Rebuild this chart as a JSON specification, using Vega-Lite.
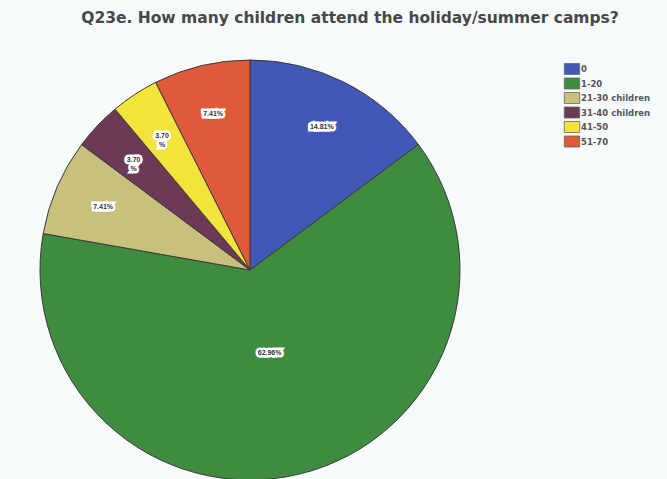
{
  "$schema": "https://vega.github.io/schema/vega-lite/v6.json",
  "autosize": "none",
  "padding": {"top": 40, "left": 0, "right": 167, "bottom": 0},
  "width": 500,
  "height": 460,
  "background": "#f6fafa",
  "title": {
    "text": "Q23e. How many children attend the holiday/summer camps?",
    "font": "DejaVu Sans",
    "fontSize": 15.5,
    "fontWeight": "bold",
    "color": "#484848",
    "anchor": "middle",
    "dx": 100,
    "offset": 14
  },
  "data": {
    "values": [
      {"idx": 1, "category": "0", "percent": 14.81, "label": "14.81%"},
      {"idx": 2, "category": "1-20", "percent": 62.96, "label": "62.96%"},
      {"idx": 3, "category": "21-30 children", "percent": 7.41, "label": "7.41%"},
      {"idx": 4, "category": "31-40 children", "percent": 3.70, "label": "3.70\n%"},
      {"idx": 5, "category": "41-50", "percent": 3.70, "label": "3.70\n%"},
      {"idx": 6, "category": "51-70", "percent": 7.41, "label": "7.41%"}
    ]
  },
  "encoding": {
    "theta": {"field": "percent", "type": "quantitative", "stack": true},
    "order": {"field": "idx", "type": "quantitative"}
  },
  "layer": [
    {
      "mark": {"type": "arc", "outerRadius": 210, "stroke": "#3a3a3a", "strokeWidth": 1},
      "encoding": {
        "color": {
          "field": "category",
          "type": "nominal",
          "sort": null,
          "scale": {
            "domain": ["0", "1-20", "21-30 children", "31-40 children", "41-50", "51-70"],
            "range": ["#4358b6", "#3f8b40", "#c8c17e", "#6d3a55", "#f3e43c", "#df5a3a"]
          },
          "legend": {
            "title": null,
            "orient": "none",
            "legendX": 566,
            "legendY": 23,
            "symbolType": "M-1.4,-1H1.4V1H-1.4Z",
            "symbolSize": 121,
            "symbolStrokeColor": "#666",
            "symbolStrokeWidth": 0.8,
            "labelFont": "DejaVu Sans",
            "labelFontSize": 8.5,
            "labelFontWeight": "bold",
            "labelColor": "#555",
            "rowPadding": -1.5,
            "labelOffset": 3
          }
        }
      }
    },
    {
      "mark": {"type": "text", "radius": 160, "font": "Liberation Sans", "fontSize": 7, "fontWeight": "bold", "fill": "#333", "stroke": "white", "strokeWidth": 5, "lineBreak": "\n", "strokeJoin": "miter"},
      "encoding": {"text": {"field": "label"}, "opacity": {"condition": {"test": "datum.category == '1-20'", "value": 0}, "value": 1}}
    },
    {
      "mark": {"type": "text", "radius": 160, "font": "Liberation Sans", "fontSize": 7, "fontWeight": "bold", "fill": "#333", "lineBreak": "\n"},
      "encoding": {"text": {"field": "label"}, "opacity": {"condition": {"test": "datum.category == '1-20'", "value": 0}, "value": 1}}
    },
    {
      "mark": {"type": "text", "radius": 85, "font": "Liberation Sans", "fontSize": 7, "fontWeight": "bold", "fill": "#333", "stroke": "white", "strokeWidth": 5, "strokeJoin": "miter"},
      "encoding": {"text": {"field": "label"}, "opacity": {"condition": {"test": "datum.category == '1-20'", "value": 1}, "value": 0}}
    },
    {
      "mark": {"type": "text", "radius": 85, "font": "Liberation Sans", "fontSize": 7, "fontWeight": "bold", "fill": "#333"},
      "encoding": {"text": {"field": "label"}, "opacity": {"condition": {"test": "datum.category == '1-20'", "value": 1}, "value": 0}}
    }
  ]
}
